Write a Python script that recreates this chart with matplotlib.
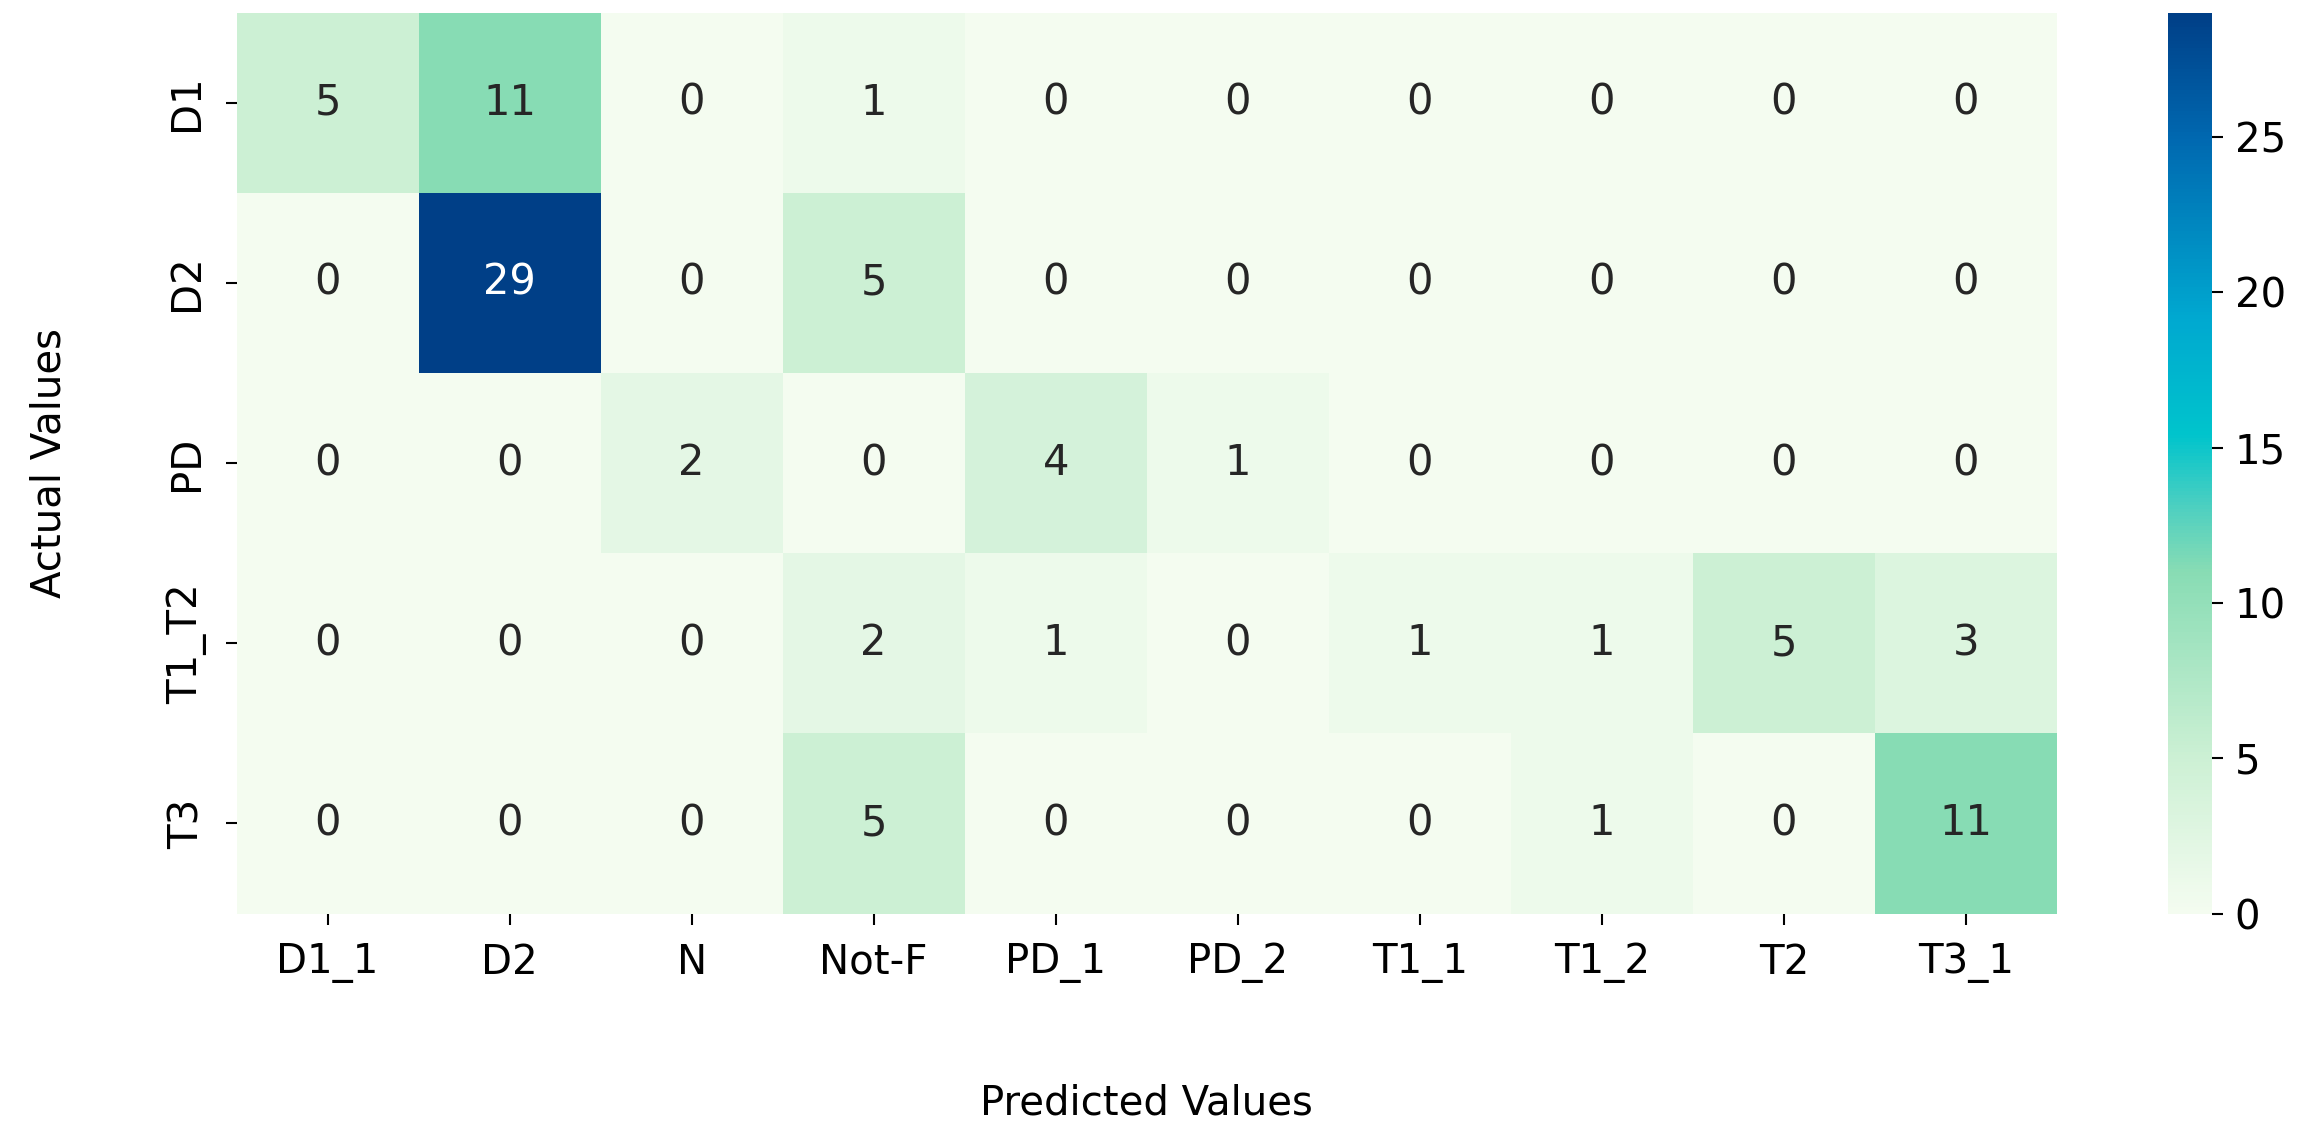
import matplotlib
matplotlib.use("Agg")
import matplotlib.pyplot as plt
from matplotlib.colors import LinearSegmentedColormap
import seaborn as sns
import numpy as np

actual = ["D1", "D2", "PD", "T1_T2", "T3"]
predicted = ["D1_1", "D2", "N", "Not-F", "PD_1", "PD_2", "T1_1", "T1_2", "T2", "T3_1"]
row_d1 = [5, 11, 0, 1, 0, 0, 0, 0, 0, 0]
row_d2 = [0, 29, 0, 5, 0, 0, 0, 0, 0, 0]
row_pd = [0, 0, 2, 0, 4, 1, 0, 0, 0, 0]
row_t1t2 = [0, 0, 0, 2, 1, 0, 1, 1, 5, 3]
row_t3 = [0, 0, 0, 5, 0, 0, 0, 1, 0, 11]

cm = np.array([row_d1, row_d2, row_pd, row_t1t2, row_t3])

# brighter GnBu-like map, colours sampled from the reference colorbar
stops = [(0.0, "#f4fcf0"), (0.172, "#ccf0d4"), (0.379, "#88dcb4"),
         (0.448, "#50d0c0"), (0.531, "#00c4cc"), (0.662, "#00a8d0"),
         (0.862, "#0068b0"), (1.0, "#003f87")]
cmap = LinearSegmentedColormap.from_list("gnbu_bright", stops)

fig = plt.figure(figsize=(23.19, 11.42), dpi=100)
ax = fig.add_axes([0.102, 0.20, 0.785, 0.789])
cax = fig.add_axes([0.935, 0.20, 0.019, 0.789])

sns.heatmap(cm, annot=True, fmt="d", cmap=cmap, ax=ax, cbar_ax=cax,
            xticklabels=predicted, yticklabels=actual,
            annot_kws={"size": 30})

ax.set_xlabel("Predicted Values", fontsize=29, labelpad=72)
ax.set_ylabel("Actual Values", fontsize=29, labelpad=70)
ax.tick_params(axis="both", labelsize=29, length=8, width=1.5, pad=13)
ax.set_yticklabels(actual, rotation=90, va="center")
cax.tick_params(labelsize=29, length=8, width=1.5, pad=8)

fig.savefig("out.png", dpi=100)
